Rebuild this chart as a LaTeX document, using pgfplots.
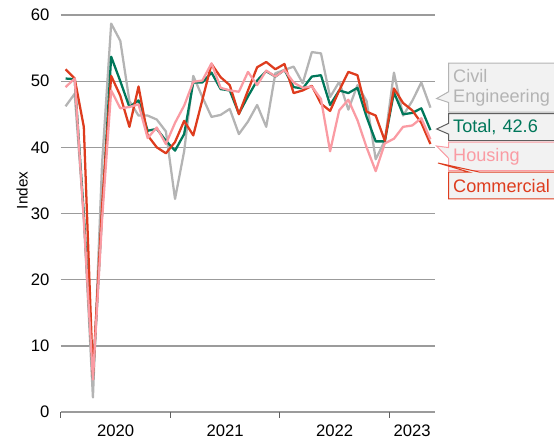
\documentclass[border=0pt]{standalone}
\usepackage{pgfplots}
\usepackage{pgfplotstable}
\pgfplotsset{compat=1.18}
\usepackage{fontspec}
\setmainfont{Liberation Sans}
\usetikzlibrary{shapes.callouts}

\definecolor{totalgreen}{RGB}{0,119,90}
\definecolor{commred}{RGB}{222,60,30}
\definecolor{housepink}{RGB}{250,155,163}
\definecolor{civgray}{RGB}{180,180,180}
\definecolor{gridgray}{RGB}{155,155,155}
\definecolor{boxfill}{RGB}{242,242,242}
\definecolor{boxdark}{RGB}{95,95,95}

\pgfplotstableread{
x     total  comm  housing  civil
0.5   50.4   51.8  49.1     46.2
1.5   50.3   50.4  50.4     48.1
2.5   30.0   43.1  29.0     29.5
3.5   5.0    5.5   4.9      2.2
4.5   30.0   31.0  29.0     37.5
5.5   53.7   50.8  48.6     58.7
6.5   50.0   47.8  45.9     56.1
7.5   46.1   43.1  46.1     47.0
8.5   47.1   49.2  46.5     44.8
9.5   42.5   41.8  41.4     44.8
10.5  42.8   40.0  43.0     44.2
11.5  41.0   39.1  40.5     42.4
12.5  39.5   40.8  43.7     32.2
13.5  42.0   44.0  46.3     39.4
14.5  49.8   41.8  49.9     50.8
15.5  49.8   47.2  50.1     47.6
16.5  51.3   52.6  52.7     44.6
17.5  48.8   50.6  49.0     44.9
18.5  48.6   49.4  48.6     45.8
19.5  45.1   45.0  48.4     42.0
20.5  47.7   48.6  51.4     43.9
21.5  50.1   52.1  49.4     46.4
22.5  51.5   52.9  51.6     43.1
23.5  50.7   51.8  50.7     51.2
24.5  51.7   52.6  51.7     51.7
25.5  49.1   48.2  49.8     52.2
26.5  48.9   48.6  49.0     49.7
27.5  50.7   49.3  49.2     54.4
28.5  50.9   46.6  47.3     54.2
29.5  46.4   45.5  39.4     47.6
30.5  48.6   48.6  45.6     49.9
31.5  48.2   51.4  47.2     45.7
32.5  49.0   50.9  44.1     49.4
33.5  44.6   45.4  40.0     47.0
34.5  40.9   44.8  36.4     38.2
35.5  40.9   41.0  40.6     41.0
36.5  48.3   48.9  41.3     51.3
37.5  45.0   46.7  43.1     44.8
38.5  45.2   45.6  43.3     47.0
39.5  45.9   43.7  44.4     49.8
40.5  42.6   40.5  41.2     46.0
}\datatable

\begin{document}
\begin{tikzpicture}
\useasboundingbox (0,0) rectangle (415.5pt,333pt);
\clip (0,0) rectangle (415.5pt,333pt);
\begin{axis}[
  at={(45.75pt,24pt)}, anchor=south west,
  scale only axis, width=280.5pt, height=297.75pt,
  xmin=0, xmax=41, ymin=0, ymax=60,
  axis line style={draw=none},
  ytick={0,10,20,30,40,50,60},
  ymajorgrids,
  grid style={gridgray, line width=1pt},
  xtick={0,12,24,36},
  xticklabels={},
  extra x ticks={6,18,30,38.5},
  extra x tick labels={2020,2021,2022,2023},
  extra x tick style={major tick length=0pt, tick style={draw=none}},
  tick align=outside,
  tick pos=left,
  major tick length=4.25pt,
  xtick style={draw=boxdark, line width=0.75pt},
  ytick style={draw=none},
  /pgf/number format/assume math mode=true,
  ticklabel style={font=\fontsize{12.5}{14}\selectfont},
  yticklabel style={xshift=-1pt},
  xticklabel style={yshift=-6.3pt},
  ylabel={Index},
  ylabel style={at={(axis description cs:-0.104,0.558)}, anchor=center, font=\fontsize{11.5}{13}\selectfont},
  every axis plot/.append style={line width=1.7pt, line join=round},
]
\addplot[civgray] table[x=x, y=civil] {\datatable};
\addplot[totalgreen] table[x=x, y=total] {\datatable};
\addplot[commred] table[x=x, y=comm] {\datatable};
\addplot[housepink] table[x=x, y=housing] {\datatable};
\end{axis}

\tikzset{lab/.style={rectangle callout, fill=boxfill, line width=0.75pt, anchor=north west,
  text width=112pt, align=left, inner xsep=3.5pt, inner ysep=0pt,
  callout pointer width=8pt, font=\fontsize{13.6}{15.5}\selectfont}}

\node[lab, draw=civgray, text=civgray, minimum height=36.75pt,
  callout absolute pointer={(327.5pt,259.1pt)}] at (336pt,286pt) {Civil\\Engineering};
\node[lab, draw=boxdark, text=totalgreen, minimum height=20.25pt,
  callout absolute pointer={(327.5pt,236.25pt)}] at (336pt,248.25pt) {Total, 42.6};
\node[lab, draw=housepink, text=housepink, minimum height=21.2pt,
  callout absolute pointer={(327.4pt,223.5pt)}] at (336pt,226.7pt) {Housing};
\node[lab, draw=commred, text=commred, minimum height=20pt,
  callout absolute pointer={(328.5pt,210.75pt)}] at (336pt,204.2pt) {Commercial};
\end{tikzpicture}
\end{document}
